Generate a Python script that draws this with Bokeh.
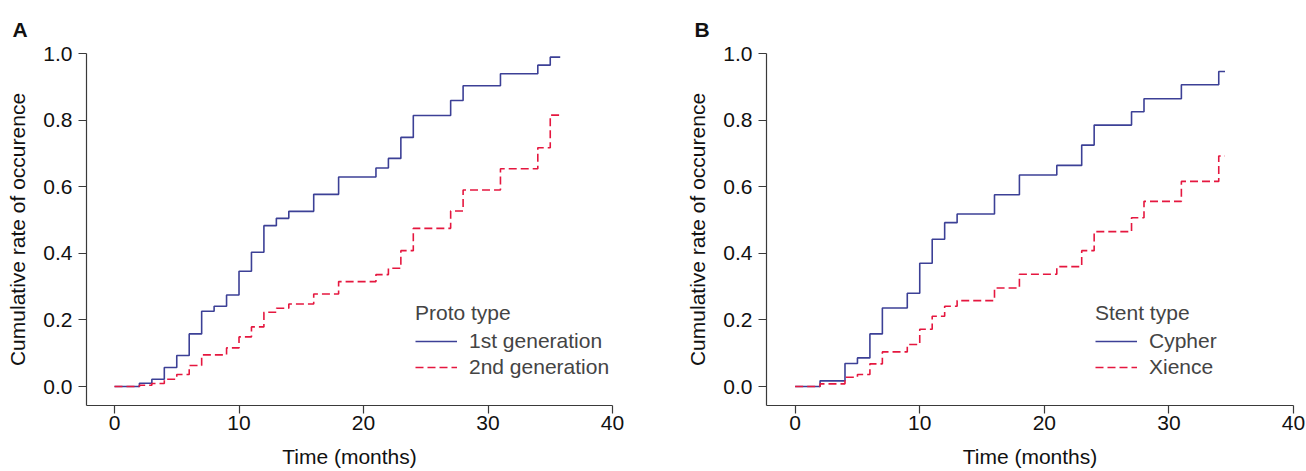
from bokeh.plotting import figure
from bokeh.layouts import row
from bokeh.models import Legend, LegendItem, FixedTicker, NumeralTickFormatter, Range1d
from bokeh.embed import file_html
from bokeh.resources import INLINE

# ---- data ----
# Panel A: Proto type
a_gen1_t = [0, 2, 3, 4, 5, 6, 7, 8, 9, 10, 11, 12, 13, 14, 16, 18, 21, 22, 23, 24, 27, 28, 31, 34, 35, 35.8]
a_gen1_v = [0, 0.010, 0.022, 0.057, 0.093, 0.158, 0.226, 0.241, 0.275, 0.346, 0.403, 0.483, 0.505, 0.526,
            0.577, 0.629, 0.656, 0.685, 0.748, 0.814, 0.859, 0.903, 0.939, 0.965, 0.989, 0.989]
a_gen2_t = [0, 2, 3, 4, 5, 6, 7, 9, 10, 11, 12, 13, 14, 16, 18, 21, 22, 23, 24, 27, 28, 31, 34, 35, 35.8]
a_gen2_v = [0, 0.004, 0.009, 0.022, 0.036, 0.063, 0.095, 0.116, 0.149, 0.179, 0.223, 0.235, 0.248, 0.278,
            0.315, 0.336, 0.355, 0.408, 0.475, 0.527, 0.590, 0.654, 0.717, 0.815, 0.815]

# Panel B: Stent type
b_cypher_t = [0, 2, 4, 5, 6, 7, 9, 10, 11, 12, 13, 16, 18, 21, 23, 24, 27, 28, 31, 34, 34.5]
b_cypher_v = [0, 0.017, 0.069, 0.086, 0.158, 0.236, 0.280, 0.370, 0.442, 0.492, 0.518, 0.576, 0.635,
              0.664, 0.725, 0.785, 0.825, 0.864, 0.906, 0.946, 0.946]
b_xience_t = [0, 2, 4, 5, 6, 7, 9, 10, 11, 12, 13, 16, 18, 21, 23, 24, 27, 28, 31, 34, 34.5]
b_xience_v = [0, 0.008, 0.028, 0.036, 0.068, 0.104, 0.126, 0.172, 0.211, 0.241, 0.258, 0.296, 0.337,
              0.360, 0.408, 0.465, 0.507, 0.556, 0.616, 0.692, 0.692]

x_ticks = [0, 10, 20, 30, 40]
y_ticks = [0.0, 0.2, 0.4, 0.6, 0.8, 1.0]

FONT = "Liberation Sans"
BLUE = "#3c4096"
RED = "#e5173f"
H = 471


def make_panel(letter, letter_offset, t1, v1, t2, v2, legend_title, names,
               width, border_left, border_right, x_start):
    p = figure(width=width, height=H, output_backend="svg", toolbar_location=None,
               x_range=Range1d(x_start, 40), y_range=Range1d(-0.057, 1.0),
               min_border_left=border_left, min_border_right=border_right,
               min_border_top=53, min_border_bottom=66)
    p.outline_line_color = None
    p.grid.visible = False
    p.background_fill_color = "white"

    p.title.text = letter
    p.title.align = "left"
    p.title.offset = letter_offset
    p.title.standoff = 25
    p.title.text_font = FONT
    p.title.text_font_size = "21px"
    p.title.text_font_style = "bold"
    p.title.text_color = "#111111"

    for ax in (p.xaxis[0], p.yaxis[0]):
        ax.axis_line_color = "#3a3a3a"
        ax.axis_line_width = 1.2
        ax.major_tick_line_color = "#3a3a3a"
        ax.major_tick_line_width = 1.2
        ax.major_tick_out = 8
        ax.major_tick_in = 0
        ax.minor_tick_line_color = None
        ax.major_label_text_font = FONT
        ax.major_label_text_font_size = "21px"
        ax.major_label_text_color = "#111111"
        ax.axis_label_text_font = FONT
        ax.axis_label_text_font_size = "21px"
        ax.axis_label_text_font_style = "normal"
        ax.axis_label_text_color = "#111111"

    p.xaxis.ticker = FixedTicker(ticks=x_ticks)
    p.yaxis.ticker = FixedTicker(ticks=y_ticks)
    p.yaxis.formatter = NumeralTickFormatter(format="0.0")
    p.xaxis.axis_label = "Time (months)"
    p.yaxis.axis_label = "Cumulative rate of occurence"
    p.xaxis.major_label_standoff = 2
    p.xaxis.axis_label_standoff = 12
    p.yaxis.major_label_standoff = 6
    p.yaxis.axis_label_standoff = 11

    r1 = p.step(t1, v1, mode="after", line_color=BLUE, line_width=1.6)
    r2 = p.step(t2, v2, mode="after", line_color=RED, line_width=1.6, line_dash="8 4")

    legend = Legend(items=[LegendItem(label=names[0], renderers=[r1]),
                           LegendItem(label=names[1], renderers=[r2])],
                    location=(329, 26), title=legend_title,
                    title_text_font=FONT, title_text_font_size="21px", title_text_font_style="normal",
                    title_standoff=4,
                    label_text_font=FONT, label_text_font_size="21px",
                    glyph_width=42, glyph_height=22, label_height=22, label_standoff=12,
                    spacing=2, padding=0, margin=0,
                    border_line_alpha=0, background_fill_alpha=0)
    p.add_layout(legend, "center")
    return p


pa = make_panel("A", -74, a_gen1_t, a_gen1_v, a_gen2_t, a_gen2_v, "Proto type",
                ["1st generation", "2nd generation"], 660, 86, 48, -2.25)
pb = make_panel("B", -72, b_cypher_t, b_cypher_v, b_xience_t, b_xience_v, "Stent type",
                ["Cypher", "Xience"], 646, 106, 13, -2.3)

layout = row(pa, pb)
open("out.html", "w").write(file_html(layout, INLINE))
